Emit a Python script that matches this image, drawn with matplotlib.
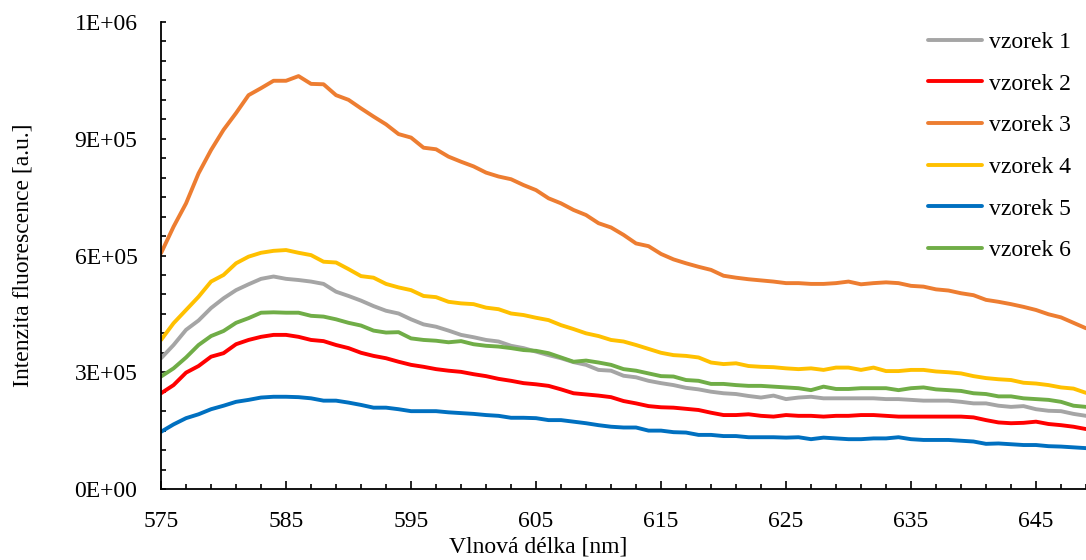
import numpy as np
import matplotlib
matplotlib.use("Agg")
import matplotlib.pyplot as plt
from matplotlib.ticker import MultipleLocator, FixedLocator, FuncFormatter

plt.rcParams['font.family'] = ['Liberation Serif', 'DejaVu Serif']

# wavelength [nm], one point per nm
vlnova_delka = np.arange(575, 650)

# intensities in thousands of a.u.
vzorek_1 = [336, 370, 409, 433, 465, 490, 511, 526, 540, 546,
            540, 537, 533, 527, 507, 496, 484, 470, 458, 451,
            436, 423, 417, 407, 396, 390, 383, 379, 368, 362,
            353, 344, 336, 326, 319, 306, 304, 291, 287, 278,
            272, 267, 260, 256, 250, 246, 244, 239, 235, 240,
            231, 235, 237, 233, 233, 233, 233, 233, 231, 231,
            229, 227, 227, 227, 224, 220, 220, 214, 211, 213,
            205, 201, 200, 193, 188]
vzorek_2 = [246, 267, 299, 316, 340, 349, 372, 383, 391, 396,
            396, 391, 383, 380, 370, 362, 350, 342, 336, 327,
            319, 314, 308, 304, 301, 295, 290, 283, 278, 272,
            269, 265, 256, 246, 243, 240, 236, 226, 220, 213,
            210, 209, 206, 203, 196, 190, 190, 192, 188, 186,
            190, 188, 188, 186, 188, 188, 190, 190, 188, 186,
            186, 186, 186, 186, 186, 184, 177, 171, 169, 170,
            173, 167, 164, 160, 154]
vzorek_3 = [606, 674, 734, 811, 871, 923, 966, 1012, 1030, 1049,
            1049, 1061, 1041, 1040, 1012, 1000, 978, 957, 937, 912,
            903, 877, 873, 854, 841, 829, 813, 803, 796, 781,
            768, 747, 734, 717, 704, 683, 672, 653, 631, 624,
            604, 590, 580, 571, 563, 548, 543, 539, 536, 533,
            529, 529, 527, 527, 529, 533, 526, 529, 531, 529,
            522, 520, 513, 510, 503, 498, 486, 481, 475, 468,
            460, 449, 441, 427, 413]
vzorek_4 = [383, 426, 460, 494, 533, 550, 580, 597, 607, 612,
            614, 607, 601, 584, 582, 565, 547, 543, 527, 518,
            511, 496, 493, 481, 477, 475, 466, 462, 451, 447,
            440, 434, 421, 411, 400, 393, 383, 379, 370, 360,
            350, 344, 342, 338, 325, 321, 323, 316, 314, 313,
            310, 308, 310, 306, 312, 312, 306, 312, 303, 303,
            306, 306, 302, 300, 297, 290, 285, 282, 280, 273,
            271, 267, 261, 258, 247]
vzorek_5 = [147, 166, 182, 192, 205, 214, 224, 229, 235, 237,
            237, 236, 233, 227, 227, 222, 216, 209, 209, 205,
            200, 200, 200, 197, 195, 193, 190, 188, 183, 183,
            182, 177, 177, 173, 169, 164, 160, 158, 158, 150,
            150, 146, 145, 139, 139, 136, 136, 133, 133, 133,
            132, 133, 128, 132, 130, 128, 128, 130, 130, 133,
            128, 126, 126, 126, 124, 122, 116, 117, 115, 113,
            113, 110, 109, 107, 105]
vzorek_6 = [289, 310, 338, 370, 393, 406, 427, 439, 453, 454,
            453, 453, 445, 443, 436, 427, 420, 407, 402, 403,
            387, 383, 381, 377, 380, 372, 368, 366, 362, 357,
            355, 349, 338, 327, 330, 325, 319, 308, 304, 297,
            290, 289, 280, 278, 270, 270, 267, 265, 265, 263,
            261, 259, 254, 263, 257, 257, 259, 259, 259, 254,
            259, 261, 256, 254, 252, 246, 244, 238, 238, 233,
            231, 229, 224, 214, 211]

nazvy = ["vzorek 1", "vzorek 2", "vzorek 3", "vzorek 4", "vzorek 5", "vzorek 6"]
barvy = ["#A5A5A5", "#FF0000", "#ED7D31", "#FFC000", "#0070C0", "#70AD47"]
popisky_x = [575, 585, 595, 605, 615, 625, 635, 645]

fig = plt.figure(figsize=(10.86, 5.6), dpi=100)
ax = fig.add_axes([0.1483, 0.1268, 0.8517, 0.8339])

for data, nazev, barva in zip([vzorek_1, vzorek_2, vzorek_3, vzorek_4, vzorek_5, vzorek_6], nazvy, barvy):
    ax.plot(vlnova_delka, np.array(data) * 1000, color=barva, lw=2.8, label=nazev,
            solid_joinstyle='round', solid_capstyle='round')

ax.set_xlim(575, 649)
ax.set_ylim(0, 1.2e6)

ax.xaxis.set_major_locator(FixedLocator(popisky_x))
ax.xaxis.set_minor_locator(MultipleLocator(2, offset=1))
ax.yaxis.set_major_locator(MultipleLocator(3e5))
ax.yaxis.set_minor_locator(MultipleLocator(5e4))
ax.yaxis.set_major_formatter(FuncFormatter(lambda v, p: f"{v:.0E}"))

ax.tick_params(axis='x', which='major', direction='in', length=6, width=1.2, pad=16, labelsize=17)
ax.tick_params(axis='x', which='minor', direction='in', length=3.5, width=1.2)
ax.tick_params(axis='y', which='major', direction='in', length=3.5, width=1.2, pad=17, labelsize=17)
ax.tick_params(axis='y', which='minor', direction='in', length=3.5, width=1.2)

for s in ['top', 'right']:
    ax.spines[s].set_visible(False)
for s in ['left', 'bottom']:
    ax.spines[s].set_linewidth(1.3)

ax.set_xlabel("Vlnová délka [nm]", fontsize=17)
ax.set_ylabel("Intenzita fluorescence [a.u.]", fontsize=17)
ax.xaxis.label.set_va('center')
ax.xaxis.set_label_coords(0.408, -0.125)
ax.yaxis.label.set_va('center')
ax.yaxis.set_label_coords(-0.149, 0.5)

ax.legend(loc='upper right', bbox_to_anchor=(1.007, 1.025), frameon=False, fontsize=17,
          handlelength=2.3, handletextpad=0.3, labelspacing=0.85)

fig.savefig("out.png", dpi=100)
